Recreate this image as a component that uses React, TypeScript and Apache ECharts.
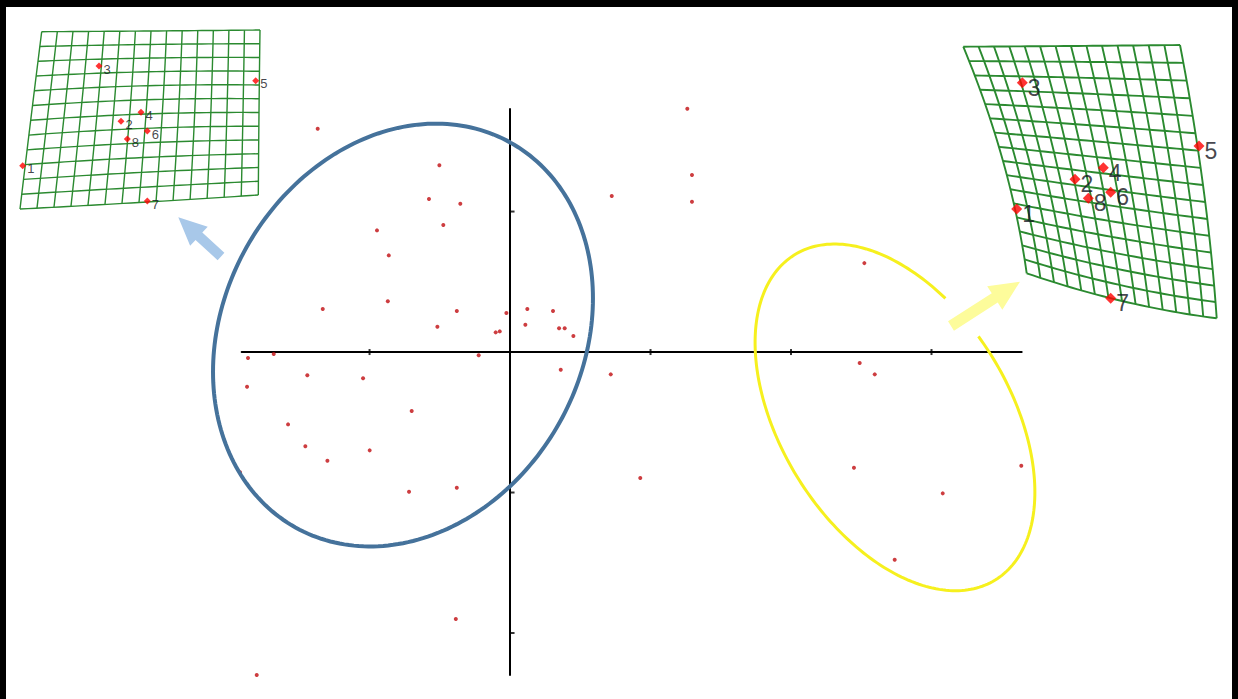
import React, { useEffect, useRef } from "react";
import * as echarts from "echarts";

// Specimen scores on the first two principal components
const pc1 = [-1.369, -0.503, 1.262, -0.577, -0.354, -0.475, -0.947, -0.863, 0.724, 1.295, 1.295, 2.522, -1.333, -0.87, -0.379, -0.517, -0.026, 0.123, 0.306, 0.109, -0.102, -0.073, 0.349, 0.389, 0.451, -1.865, -1.682, -0.223, -1.443, -1.046, -1.872, 0.361, 0.717, 2.489, 2.596, -0.7, -1.58, -1.457, -0.999, -1.3, -1.922, -0.719, -0.379, 0.927, 2.448, 3.639, 3.08, 2.738, -0.386, -1.803];
const pc2 = [1.589, 1.329, 1.732, 1.089, 1.056, 0.904, 0.866, 0.688, 1.11, 1.26, 1.07, 0.633, 0.306, 0.361, 0.292, 0.18, 0.278, 0.306, 0.292, 0.194, 0.14, 0.147, 0.169, 0.169, 0.114, -0.043, -0.014, -0.023, -0.166, -0.187, -0.247, -0.126, -0.159, -0.078, -0.159, -0.42, -0.515, -0.671, -0.7, -0.774, -0.856, -0.994, -0.966, -0.897, -0.823, -0.809, -1.006, -1.478, -1.9, -2.299];

const xTickValues = [-1, 1, 2, 3];
const yTickValues = [1, -1, -2];

// Group ellipses: centre, semi-axes, tilt (deg), open arc (param deg)
const ellipseCentreX = [-0.762, 2.74];
const ellipseCentreY = [0.121, -0.465];
const ellipseSemiA = [1.569, 1.36];
const ellipseSemiB = [1.277, 0.815];
const ellipseTilt = [60.8, -58.3];
const ellipseGapFrom = [0, 97.5];
const ellipseGapTo = [0, 113];
const ellipseColors = ["#45729b", "#f6f01e"];
const ellipseWidths = [4, 3];

// Landmarks at the negative / positive extremes
const landmarkIds = ["1", "2", "3", "4", "5", "6", "7", "8"];
const negLmX = [12.7, 111, 89, 131, 245.7, 137.3, 137.3, 117.3];
const negLmY = [145.7, 101.3, 46, 92.3, 60.7, 111, 181, 119];
const posLmX = [66.7, 125, 72.3, 153.3, 249, 160.7, 160.7, 138.3];
const posLmY = [174, 144.3, 47.7, 132.7, 111, 157.3, 263.3, 163.3];

// Deformation grids: 3x3 control nets (row-major, top row first)
const negGridNet = [
  [31.7, 11.7], [141, 11], [250, 10],
  [20.7, 100.3], [136, 94], [249, 92.5],
  [10, 189], [129, 182.5], [248.3, 175],
];
const posGridNet = [
  [13.3, 11.7], [121, 11], [230, 10],
  [53, 126], [150, 138], [253, 150],
  [76.7, 238.3], [172, 266], [266.7, 283.3],
];
const negGridCells = [14, 12];
const posGridCells = [14, 16];

const basis = (s: number) => [2 * (s - 0.5) * (s - 1), -4 * s * (s - 1), 2 * s * (s - 0.5)];

function warp(net: number[][], s: number, t: number) {
  const bs = basis(s);
  const bt = basis(t);
  let x = 0;
  let y = 0;
  for (let i = 0; i < 3; i++) {
    for (let j = 0; j < 3; j++) {
      const w = bt[i] * bs[j];
      x += w * net[i * 3 + j][0];
      y += w * net[i * 3 + j][1];
    }
  }
  return [x, y];
}

function gridRenderer(net: number[][], cells: number[], width: number) {
  return (_params: any, api: any) => {
    const [nc, nr] = cells;
    const steps = 30;
    const children: any[] = [];
    const style = { stroke: "#2b8a30", lineWidth: width, fill: null };
    for (let c = 0; c <= nc; c++) {
      const pts: number[][] = [];
      for (let k = 0; k <= steps; k++) pts.push(api.coord(warp(net, c / nc, k / steps)));
      children.push({ type: "polyline", shape: { points: pts }, style });
    }
    for (let r = 0; r <= nr; r++) {
      const pts: number[][] = [];
      for (let k = 0; k <= steps; k++) pts.push(api.coord(warp(net, k / steps, r / nr)));
      children.push({ type: "polyline", shape: { points: pts }, style });
    }
    return { type: "group", children };
  };
}

function ellipseRenderer(params: any, api: any) {
  const i = params.dataIndex;
  const c = api.coord([api.value(0), api.value(1)]);
  const size = api.size([ellipseSemiA[i], ellipseSemiB[i]]);
  const rx = size[0];
  const ry = size[1];
  const th = (ellipseTilt[i] * Math.PI) / 180;
  const from = ellipseGapTo[i];
  const to = ellipseGapFrom[i] + 360;
  const pts: number[][] = [];
  const n = 240;
  for (let k = 0; k <= n; k++) {
    const t = ((from + ((to - from) * k) / n) * Math.PI) / 180;
    const u = rx * Math.cos(t);
    const v = ry * Math.sin(t);
    pts.push([c[0] + u * Math.cos(th) - v * Math.sin(th), c[1] - (u * Math.sin(th) + v * Math.cos(th))]);
  }
  return {
    type: "polyline",
    shape: { points: pts },
    style: { stroke: ellipseColors[i], lineWidth: ellipseWidths[i], fill: null },
    z2: 10,
  };
}

function arrowPoints(tail: number[], tip: number[], shaftHalf: number, headHalf: number, headLen: number) {
  const dx = tip[0] - tail[0];
  const dy = tip[1] - tail[1];
  const len = Math.hypot(dx, dy);
  const ux = dx / len;
  const uy = dy / len;
  const px = -uy;
  const py = ux;
  const bx = tip[0] - ux * headLen;
  const by = tip[1] - uy * headLen;
  return [
    [tail[0] + px * shaftHalf, tail[1] + py * shaftHalf],
    [bx + px * shaftHalf, by + py * shaftHalf],
    [bx + px * headHalf, by + py * headHalf],
    [tip[0], tip[1]],
    [bx - px * headHalf, by - py * headHalf],
    [bx - px * shaftHalf, by - py * shaftHalf],
    [tail[0] - px * shaftHalf, tail[1] - py * shaftHalf],
  ];
}

const hiddenAxis = { show: false, splitLine: { show: false } };

export default function App() {
  const ref = useRef<HTMLDivElement>(null);

  useEffect(() => {
    if (!ref.current) return;
    const chart = echarts.init(ref.current, undefined, { renderer: "svg" });
    const labelFont = "'Liberation Sans', Arial, sans-serif";

    chart.setOption({
      animation: false,
      grid: [
        { left: 241.7, right: 216.3, top: 109, bottom: 24 },
        { left: 10, top: 20, width: 260, height: 200 },
        { left: 950, top: 35, width: 280, height: 295 },
      ],
      xAxis: [
        {
          type: "value",
          gridIndex: 0,
          min: -1.91,
          max: 3.642,
          axisLine: { show: true, onZero: true, lineStyle: { color: "#000", width: 2 } },
          axisTick: { show: false },
          axisLabel: { show: false },
          splitLine: { show: false },
        },
        { type: "value", gridIndex: 1, min: 0, max: 260, ...hiddenAxis },
        { type: "value", gridIndex: 2, min: 0, max: 280, ...hiddenAxis },
      ],
      yAxis: [
        {
          type: "value",
          gridIndex: 0,
          min: -2.299,
          max: 1.73,
          axisLine: { show: true, onZero: true, lineStyle: { color: "#000", width: 2 } },
          axisTick: { show: false },
          axisLabel: { show: false },
          splitLine: { show: false },
        },
        { type: "value", gridIndex: 1, min: 0, max: 200, inverse: true, ...hiddenAxis },
        { type: "value", gridIndex: 2, min: 0, max: 295, inverse: true, ...hiddenAxis },
      ],
      series: [
        {
          name: "xTicks",
          type: "scatter",
          xAxisIndex: 0,
          yAxisIndex: 0,
          symbol: "rect",
          symbolSize: [2, 6],
          itemStyle: { color: "#000" },
          data: xTickValues.map((v) => [v, 0]),
          silent: true,
        },
        {
          name: "yTicks",
          type: "scatter",
          xAxisIndex: 0,
          yAxisIndex: 0,
          symbol: "rect",
          symbolSize: [5, 2],
          symbolOffset: [2, 0],
          itemStyle: { color: "#000" },
          data: yTickValues.map((v) => [0, v]),
          silent: true,
        },
        {
          name: "specimens",
          type: "scatter",
          xAxisIndex: 0,
          yAxisIndex: 0,
          symbol: "circle",
          symbolSize: 4,
          clip: false,
          itemStyle: { color: "#c00d10" },
          data: pc1.map((x, i) => [x, pc2[i]]),
        },
        {
          name: "groups",
          type: "custom",
          xAxisIndex: 0,
          yAxisIndex: 0,
          renderItem: ellipseRenderer,
          data: ellipseCentreX.map((x, i) => [x, ellipseCentreY[i]]),
          z: 5,
          silent: true,
        },
        {
          name: "negGrid",
          type: "custom",
          xAxisIndex: 1,
          yAxisIndex: 1,
          renderItem: gridRenderer(negGridNet, negGridCells, 1.4),
          data: [[0, 0]],
          silent: true,
        },
        {
          name: "posGrid",
          type: "custom",
          xAxisIndex: 2,
          yAxisIndex: 2,
          renderItem: gridRenderer(posGridNet, posGridCells, 1.9),
          data: [[0, 0]],
          silent: true,
        },
        {
          name: "negLandmarks",
          type: "scatter",
          xAxisIndex: 1,
          yAxisIndex: 1,
          symbol: "diamond",
          symbolSize: 7,
          z: 6,
          itemStyle: { color: "#ff0000" },
          label: {
            show: true,
            position: "right",
            distance: 1,
            offset: [0, 3],
            formatter: (p: any) => p.name,
            fontSize: 13,
            fontFamily: labelFont,
            color: "#151520",
          },
          data: landmarkIds.map((id, i) => ({ name: id, value: [negLmX[i], negLmY[i]] })),
        },
        {
          name: "posLandmarks",
          type: "scatter",
          xAxisIndex: 2,
          yAxisIndex: 2,
          symbol: "diamond",
          symbolSize: 11,
          z: 6,
          itemStyle: { color: "#ff0000" },
          label: {
            show: true,
            position: "right",
            distance: 0,
            offset: [0, 5],
            formatter: (p: any) => p.name,
            fontSize: 23,
            fontFamily: labelFont,
            color: "#151520",
          },
          data: landmarkIds.map((id, i) => ({ name: id, value: [posLmX[i], posLmY[i]] })),
        },
      ],
      graphic: [
        {
          type: "polygon",
          shape: { points: arrowPoints([221, 256.5], [178.3, 217.3], 5, 13, 28) },
          style: { fill: "#a8c8e9" },
          silent: true,
        },
        {
          type: "polygon",
          shape: { points: arrowPoints([951, 326], [1020, 281.7], 5.5, 14, 30) },
          style: { fill: "#fdfc9b" },
          silent: true,
        },
      ],
    });

    return () => chart.dispose();
  }, []);

  return (
    <div style={{ position: "fixed", left: 0, top: 0, width: 1238, height: 699, background: "#fff" }}>
      <div
        style={{
          position: "absolute",
          left: 0,
          top: 0,
          width: 1238,
          height: 699,
          boxSizing: "border-box",
          borderTop: "7px solid #000",
          borderLeft: "6px solid #000",
          borderRight: "6px solid #000",
        }}
      />
      <div ref={ref} style={{ position: "absolute", left: 0, top: 0, width: 1238, height: 699 }} />
    </div>
  );
}
